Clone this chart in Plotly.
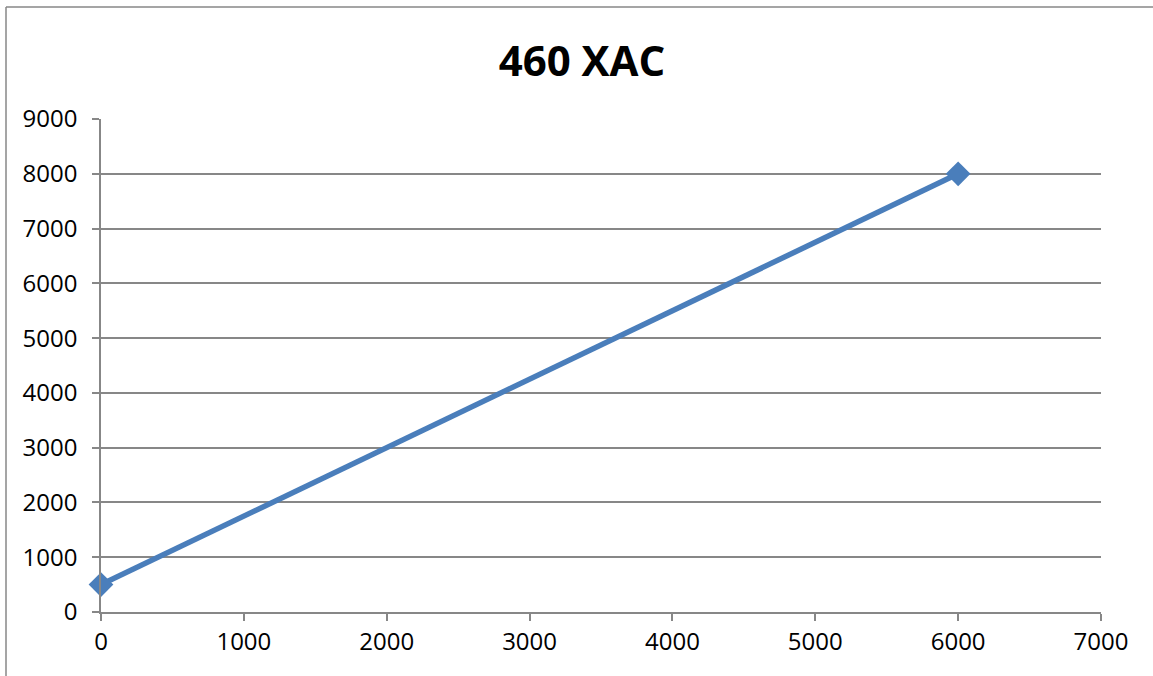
import plotly.graph_objects as go

x_vals = [0, 6000]
y_vals = [500, 8000]
x_ticks = [0, 1000, 2000, 3000, 4000, 5000, 6000, 7000]
y_ticks = [0, 1000, 2000, 3000, 4000, 5000, 6000, 7000, 8000, 9000]
title_text = "460 XAC"

W, H = 1153, 676
L, R, T, B = 101, 52, 119, 64
pw, ph = W - L - R, H - T - B

fig = go.Figure()
fig.add_trace(go.Scatter(
    x=x_vals, y=y_vals, mode="lines+markers",
    line=dict(color="#4A7EBB", width=5.5),
    marker=dict(symbol="diamond", size=19, color="#4A7EBB"),
    showlegend=False, cliponaxis=False,
))

grid = "#878787"
font = "Open Sans, Liberation Sans, sans-serif"
fig.update_layout(
    width=W, height=H,
    margin=dict(l=L, r=R, t=T, b=B),
    paper_bgcolor="white", plot_bgcolor="white",
    title=dict(text="<b>" + title_text + "</b>", x=582 / W, xanchor="center",
               y=1 - 61 / H, yanchor="middle",
               font=dict(family=font, size=42, color="black")),
    xaxis=dict(range=[0, 7000], tickvals=x_ticks, ticktext=[str(v) for v in x_ticks],
               showgrid=False, zeroline=False, showline=True, linecolor=grid, linewidth=1.5,
               ticks="outside", ticklen=7, tickcolor=grid, tickwidth=1.5,
               tickfont=dict(family=font, size=24, color="black"), fixedrange=True),
    yaxis=dict(range=[0, 9000], tickvals=y_ticks, ticktext=[str(v) for v in y_ticks],
               showgrid=True, gridcolor=grid, gridwidth=1.5, zeroline=False,
               showline=True, linecolor=grid, linewidth=1.5,
               ticks="outside", ticklen=7, tickcolor=grid, tickwidth=1.5,
               ticklabelstandoff=10,
               tickfont=dict(family=font, size=24, color="black"), fixedrange=True),
)

def px_x(px):
    return (px - L) / pw

def px_y(py):
    return (H - B - py) / ph

# outer chart border (left and top edges visible)
fig.add_shape(type="line", xref="paper", yref="paper",
              x0=px_x(6), x1=px_x(6), y0=px_y(7), y1=px_y(H + 10),
              line=dict(color=grid, width=1.5))
fig.add_shape(type="line", xref="paper", yref="paper",
              x0=px_x(6), x1=px_x(W + 10), y0=px_y(7), y1=px_y(7),
              line=dict(color=grid, width=1.5))

fig.write_html("out.html", config={"displayModeBar": False},
               post_script="document.body.style.margin='0';document.body.style.overflow='hidden';")
